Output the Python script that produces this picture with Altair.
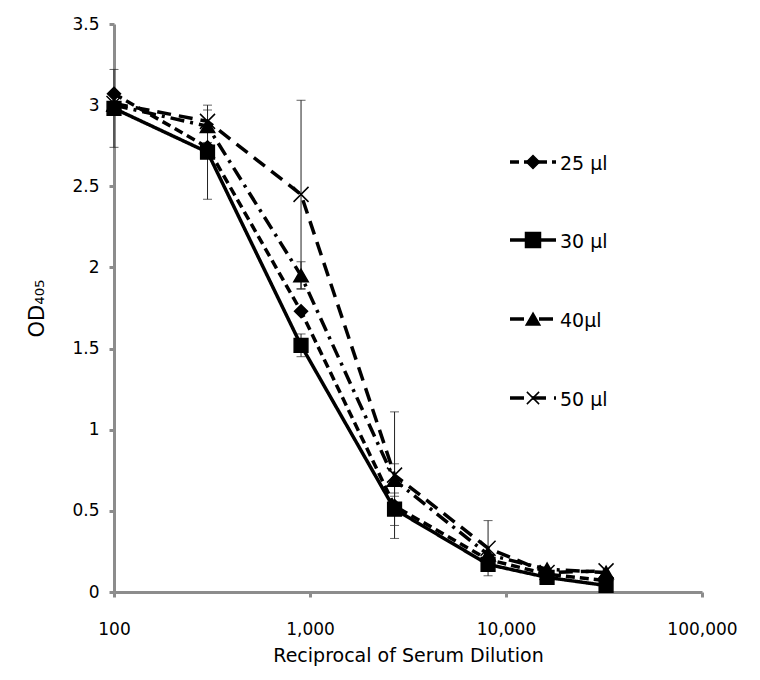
import altair as alt
import pandas as pd

# ---- data ----
dilutions = [100, 300, 900, 2700, 8100, 16200, 32400]
series_names = ["25 µl", "30 µl", "40µl", "50 µl"]
od_25 = [3.07, 2.74, 1.73, 0.53, 0.20, 0.11, 0.07]
od_30 = [2.98, 2.71, 1.52, 0.51, 0.17, 0.09, 0.04]
od_40 = [3.00, 2.87, 1.95, 0.69, 0.23, 0.14, 0.12]
od_50 = [3.01, 2.90, 2.45, 0.72, 0.27, 0.12, 0.13]
# error-bar half widths (0 = no visible bar)
err_25 = [0, 0, 0, 0, 0, 0, 0]
err_30 = [0.24, 0.29, 0.07, 0.10, 0, 0, 0]
err_40 = [0, 0.10, 0.085, 0.10, 0, 0, 0]
err_50 = [0, 0, 0.58, 0.39, 0.17, 0, 0]
x_ticks = [100, 1000, 10000, 100000]
y_ticks = [0, 0.5, 1, 1.5, 2, 2.5, 3, 3.5]

values = [od_25, od_30, od_40, od_50]
errors = [err_25, err_30, err_40, err_50]
rows = []
for name, vals, errs in zip(series_names, values, errors):
    for d, v, e in zip(dilutions, vals, errs):
        rows.append({"series": name, "dilution": d, "od": v, "err": e,
                     "lo": v - e, "hi": v + e})
df = pd.DataFrame(rows)
df_err = df[df["err"] > 0]

FONT = "DejaVu Sans"
dashes = [[9, 5], [1, 0], [14, 6, 3, 6], [14, 8]]
shapes = ["diamond", "square", "triangle-up", "M-1,-1L1,1M-1,1L1,-1"]
sizes = [170, 225, 190, 150]

xscale = alt.Scale(type="log", domain=[100, 100000], nice=False)
yscale = alt.Scale(domain=[0, 3.5], nice=False)

x_enc = alt.X("dilution:Q", scale=xscale,
              axis=alt.Axis(values=x_ticks, format=",", labelFlush=False,
                            labelPadding=24, title="Reciprocal of Serum Dilution",
                            titlePadding=9, titleFontSize=19))
y_enc = alt.Y("od:Q", scale=yscale,
              axis=alt.Axis(values=y_ticks, format="~g", labelPadding=10,
                            title="OD₄₀₅", titlePadding=24, titleFontSize=21))

base = alt.Chart(df)

err_rule = alt.Chart(df_err).mark_rule(color="#222", strokeWidth=1).encode(
    x=alt.X("dilution:Q", scale=xscale), y=alt.Y("lo:Q", scale=yscale), y2="hi:Q")
err_lo = alt.Chart(df_err).mark_tick(orient="horizontal", size=9, thickness=1, color="#222").encode(
    x=alt.X("dilution:Q", scale=xscale), y=alt.Y("lo:Q", scale=yscale))
err_hi = alt.Chart(df_err).mark_tick(orient="horizontal", size=9, thickness=1, color="#222").encode(
    x=alt.X("dilution:Q", scale=xscale), y=alt.Y("hi:Q", scale=yscale))

lines = base.mark_line(color="black", strokeWidth=3.5, strokeCap="butt").encode(
    x=x_enc, y=y_enc,
    strokeDash=alt.StrokeDash("series:N", scale=alt.Scale(domain=series_names, range=dashes),
                              legend=None),
    detail="series:N",
)

points = base.mark_point(fill="black", stroke="black", strokeWidth=1.5, opacity=1).encode(
    x=alt.X("dilution:Q", scale=xscale), y=alt.Y("od:Q", scale=yscale),
    shape=alt.Shape("series:N", scale=alt.Scale(domain=series_names, range=shapes), legend=None),
    size=alt.Size("series:N", scale=alt.Scale(domain=series_names, range=sizes), legend=None),
)

# ---- manual legend (right side of plot) ----
legend_layers = []
legend_rows_y = [138, 216, 295, 374]
for name, dash, shp, sz, ly in zip(series_names, dashes, shapes, sizes, legend_rows_y):
    ldf = pd.DataFrame({"series": [name]})
    lc = alt.Chart(ldf)
    legend_layers.append(lc.mark_rule(color="black", strokeWidth=3.5, strokeDash=dash,
                                      strokeCap="butt").encode(
        x=alt.value(396), x2=alt.value(442), y=alt.value(ly)))
    legend_layers.append(lc.mark_point(shape=shp, size=sz, fill="black", stroke="black",
                                       strokeWidth=1.5, opacity=1).encode(
        x=alt.value(419), y=alt.value(ly)))
    legend_layers.append(lc.mark_text(align="left", baseline="middle", font=FONT,
                                      fontSize=19, color="black").encode(
        x=alt.value(446), y=alt.value(ly + 2), text="series:N"))

chart = alt.layer(err_rule, err_lo, err_hi, lines, points, *legend_layers).properties(
    width=588, height=568,
    autosize=alt.AutoSizeParams(type="none"),
    padding={"left": 106, "top": 16, "right": 50, "bottom": 76},
).configure_view(stroke=None).configure_axis(
    grid=False,
    domainColor="#8c8c8c", domainWidth=3,
    tickColor="#8c8c8c", tickWidth=3, tickSize=5,
    labelFont=FONT, labelFontSize=17, labelColor="black",
    titleFont=FONT, titleFontSize=17, titleFontWeight="normal", titleColor="black",
)

chart.save("out.html", embed_options={"renderer": "svg", "actions": False})
